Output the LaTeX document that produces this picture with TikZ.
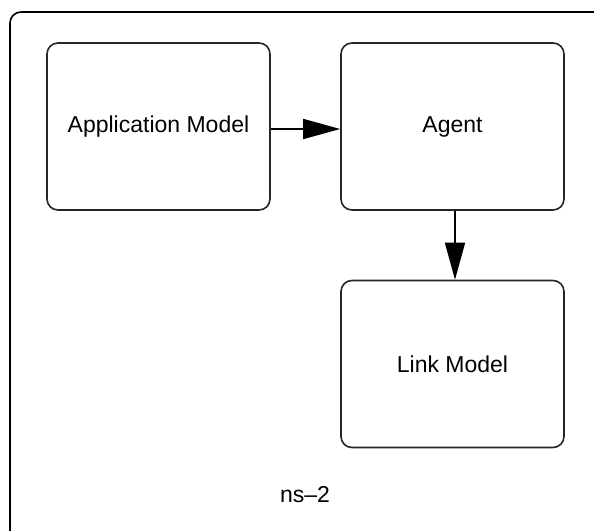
\documentclass[tikz,border=0pt]{standalone}
\usepackage{fontspec}
\setmainfont{Liberation Sans}
\usetikzlibrary{arrows.meta}
\begin{document}
\begin{tikzpicture}[x=1pt,y=-1pt,
  block/.style={draw=black!85,line width=1.6pt,rounded corners=11pt,
    minimum width=223pt,minimum height=167pt,inner sep=0pt,
    font=\fontsize{23}{27}\selectfont},
  flow/.style={draw=black,line width=1.6pt,
    -{Triangle[length=37pt,width=20pt]}},
  frame/.style={draw=black,line width=1.6pt,rounded corners=11pt}]
  \useasboundingbox (0,0) rectangle (594,530);
  \clip (0,0) rectangle (594,530);
  \fill[white] (0,0) rectangle (594,530);
  % outer simulator frame, running past the page edge
  \draw[frame] (10,12) rectangle (620,560);
  \node[block] (app)   at (158.5,126.5) {Application Model};
  \node[block] (agent) at (452.5,126.5) {Agent};
  \node[block] (link)  at (452.5,364)   {Link Model};
  \node[font=\fontsize{23}{27}\selectfont] (ns) at (305,495) {ns--2};
  \draw[flow] ([yshift=-2.5pt]app.east) -- ([yshift=-2.5pt]agent.west);
  \draw[flow] ([xshift=2.5pt]agent.south) -- ([xshift=2.5pt]link.north);
\end{tikzpicture}
\end{document}
